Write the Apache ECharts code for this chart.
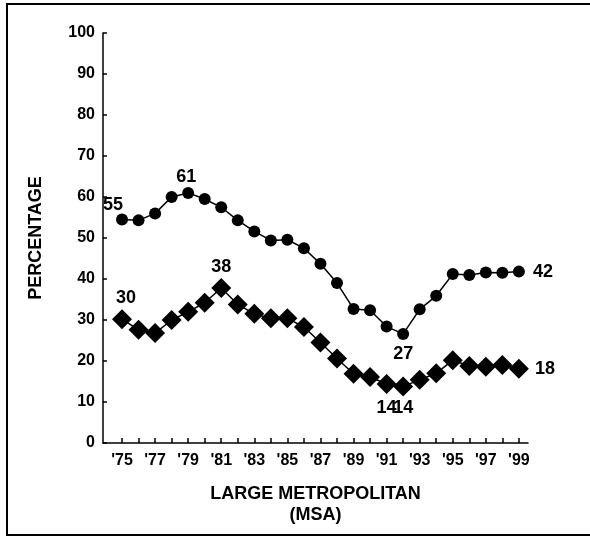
<!DOCTYPE html>
<html>
<head>
<meta charset="utf-8">
<script src="https://cdn.jsdelivr.net/npm/echarts@6/dist/echarts.min.js"></script>
<style>
html,body{margin:0;padding:0;background:#fff;}
#chart{width:590px;height:539px;}
</style>
</head>
<body>
<div id="chart"></div>
<script>
var years = [75,76,77,78,79,80,81,82,83,84,85,86,87,88,89,90,91,92,93,94,95,96,97,98,99];
var circleValues = [54.5,54.3,56,60,61,59.5,57.5,54.3,51.6,49.4,49.6,47.5,43.7,39,32.7,32.4,28.4,26.6,32.6,35.9,41.2,41.0,41.6,41.5,41.8];
var diamondValues = [30.2,27.6,26.8,30.0,32.0,34.2,37.8,33.8,31.5,30.4,30.4,28.3,24.5,20.6,16.9,16.1,14.4,13.8,15.4,17.0,20.2,18.8,18.6,19.0,18.1];
var yTicks = [0,10,20,30,40,50,60,70,80,90,100];
var xLabelYears = [75,77,79,81,83,85,87,89,91,93,95,97,99];
var yTitle = 'PERCENTAGE';
var xTitle = 'LARGE METROPOLITAN\n(MSA)';
// indices of labelled points
var circleLabelIdx = [0, 4, 17, 24];
var diamondLabelIdx = [0, 6, 16, 17, 24];

var FONT = '"Liberation Sans", Arial, Helvetica, sans-serif';

var circlePos = {0:{position:'top',offset:[-9,4]},4:{position:'top',offset:[-2,3]},17:{position:'bottom',offset:[0,1]},24:{position:'right',offset:[4,0]}};
var diamondPos = {0:{position:'top',offset:[4,2]},6:{position:'top',offset:[0,2]},16:{position:'bottom',offset:[0,1]},17:{position:'bottom',offset:[0,-1]},24:{position:'right',offset:[2,0]}};

function buildData(vals, idxs, posMap){
  return vals.map(function(v,i){
    var item = {value:[years[i], v]};
    if (idxs.indexOf(i) >= 0) {
      var p = posMap[i];
      item.label = {show:true, position:p.position, offset:p.offset, distance:4,
        formatter: String(Math.round(v)),
        color:'#000', fontFamily:FONT, fontSize:18, fontWeight:'bold'};
    }
    return item;
  });
}

var chart = echarts.init(document.getElementById('chart'), null, {renderer:'canvas'});
chart.setOption({
  animation:false,
  backgroundColor:'#fff',
  graphic:[{type:'rect', shape:{x:7, y:4, width:620, height:531},
    style:{fill:'none', stroke:'#000', lineWidth:2}, silent:true}],
  grid:{left:103, right:62, top:33, bottom:96, containLabel:false},
  xAxis:{
    type:'value', min:73.85, max:99.55,
    axisLine:{lineStyle:{color:'#000', width:1.5}},
    axisTick:{show:true, inside:true, length:5, lineStyle:{color:'#000', width:1.5}, customValues:years},
    axisLabel:{show:true, customValues:xLabelYears, formatter:function(v){return "'" + String(v).slice(-2);},
      color:'#000', fontFamily:FONT, fontSize:16, fontWeight:'bold', margin:10},
    splitLine:{show:false},
    name:xTitle, nameLocation:'middle', nameGap:41,
    nameTextStyle:{color:'#000', fontFamily:FONT, fontSize:18, fontWeight:'bold', lineHeight:21}
  },
  yAxis:{
    type:'value', min:0, max:100, interval:10,
    axisLine:{show:true, lineStyle:{color:'#000', width:1.5}},
    axisTick:{show:true, inside:true, length:4, lineStyle:{color:'#000', width:1.5}},
    axisLabel:{color:'#000', fontFamily:FONT, fontSize:16, fontWeight:'bold', margin:8,
      formatter:function(v){return yTicks.indexOf(v)>=0 ? String(v) : '';}},
    splitLine:{show:false},
    name:yTitle, nameLocation:'middle', nameGap:58,
    nameTextStyle:{color:'#000', fontFamily:FONT, fontSize:18, fontWeight:'bold'}
  },
  series:[
    {type:'line', data:buildData(circleValues, circleLabelIdx, circlePos),
      symbol:'circle', symbolSize:12, showAllSymbol:true,
      lineStyle:{color:'#000', width:1.5}, itemStyle:{color:'#000'}, z:3},
    {type:'line', data:buildData(diamondValues, diamondLabelIdx, diamondPos),
      symbol:'diamond', symbolSize:[20,20], showAllSymbol:true,
      lineStyle:{color:'#000', width:1.5}, itemStyle:{color:'#000'}, z:3}
  ]
});
</script>
</body>
</html>
